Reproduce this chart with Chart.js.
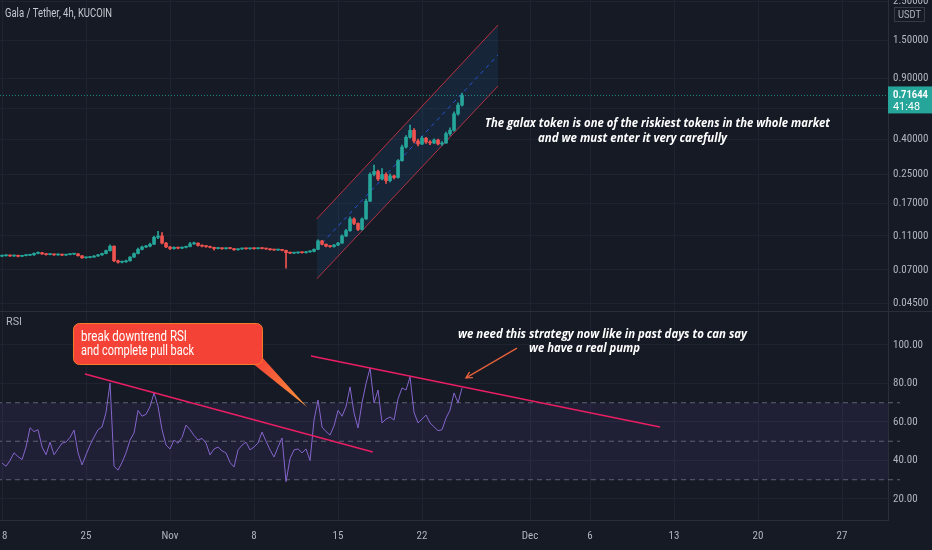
<!DOCTYPE html>
<html>
<head>
<meta charset="utf-8">
<script src="https://cdn.jsdelivr.net/npm/chart.js@4.4.0/dist/chart.umd.min.js"></script>
<style>
  html, body { margin: 0; padding: 0; background: #151a25; overflow: hidden; }
  #wrap { position: relative; width: 932px; height: 550px; }
  #priceChart { position: absolute; left: 0; top: 0; }
  #rsiChart { position: absolute; left: 0; top: 311px; }
</style>
</head>
<body>
<div id="wrap">
  <canvas id="priceChart" width="932" height="311"></canvas>
  <canvas id="rsiChart" width="932" height="239"></canvas>
</div>
<script>
// --- DATA (8h candles from Oct 18) ---
const closes = [
  0.0845, 0.0850, 0.0842, 0.0848, 0.0839, 0.0846, 0.0851, 0.0855, 0.0872, 0.0880,
  0.0866, 0.0858, 0.0862, 0.0855, 0.0860, 0.0852, 0.0858, 0.0863, 0.0867, 0.0845,
  0.0822, 0.0825, 0.0830, 0.0842, 0.0855, 0.0870, 0.0905, 0.0960, 0.0790, 0.0775,
  0.0780, 0.0790, 0.0830, 0.0870, 0.0920, 0.0950, 0.0960, 0.0985, 0.1080, 0.1100,
  0.1000, 0.0950, 0.0930, 0.0945, 0.0935, 0.0945, 0.0955, 0.0990, 0.1000, 0.0970,
  0.0960, 0.0955, 0.0945, 0.0930, 0.0935, 0.0928, 0.0935, 0.0930, 0.0915, 0.0925,
  0.0930, 0.0927, 0.0932, 0.0928, 0.0935, 0.0930, 0.0925, 0.0915, 0.0912, 0.0915,
  0.0908, 0.0880, 0.0875, 0.0878, 0.0882, 0.0880, 0.0890, 0.0895, 0.0920, 0.1030,
  0.0985, 0.0960, 0.0955, 0.0975, 0.1000, 0.1100, 0.1180, 0.1380, 0.1300, 0.1200,
  0.1380, 0.1750, 0.2500, 0.2600, 0.2350, 0.2500, 0.2300, 0.2450, 0.2400, 0.3000,
  0.3600, 0.4100, 0.4500, 0.3900, 0.3750, 0.4050, 0.3850, 0.3800, 0.3950, 0.3750,
  0.3800, 0.4300, 0.4500, 0.5600, 0.6300, 0.71644
];
const highs = [
  0.0852, 0.0856, 0.0855, 0.0853, 0.0852, 0.0850, 0.0857, 0.0862, 0.0878, 0.0890,
  0.0885, 0.0870, 0.0868, 0.0866, 0.0865, 0.0864, 0.0862, 0.0868, 0.0873, 0.0870,
  0.0848, 0.0830, 0.0836, 0.0847, 0.0860, 0.0876, 0.0912, 0.0978, 0.0965, 0.0798,
  0.0788, 0.0797, 0.0836, 0.0878, 0.0935, 0.0960, 0.0972, 0.1000, 0.1100, 0.1170,
  0.1150, 0.1010, 0.0958, 0.0952, 0.0950, 0.0952, 0.0962, 0.1010, 0.1015, 0.1005,
  0.0978, 0.0966, 0.0960, 0.0950, 0.0942, 0.0940, 0.0940, 0.0941, 0.0934, 0.0930,
  0.0936, 0.0935, 0.0937, 0.0938, 0.0940, 0.0940, 0.0934, 0.0930, 0.0920, 0.0920,
  0.0922, 0.0912, 0.0886, 0.0884, 0.0888, 0.0888, 0.0896, 0.0902, 0.0928, 0.1045,
  0.1038, 0.0992, 0.0968, 0.0982, 0.1010, 0.1115, 0.1200, 0.1420, 0.1400, 0.1310,
  0.1400, 0.1800, 0.2550, 0.2830, 0.2650, 0.2700, 0.2550, 0.2520, 0.2480, 0.3050,
  0.3700, 0.4200, 0.4830, 0.4600, 0.4000, 0.4150, 0.4100, 0.3920, 0.4020, 0.4000,
  0.3870, 0.4400, 0.4650, 0.5750, 0.6500, 0.7400
];
const lows = [
  0.0835, 0.0840, 0.0837, 0.0838, 0.0833, 0.0835, 0.0842, 0.0846, 0.0850, 0.0866,
  0.0860, 0.0852, 0.0853, 0.0850, 0.0850, 0.0846, 0.0848, 0.0853, 0.0858, 0.0840,
  0.0816, 0.0817, 0.0820, 0.0826, 0.0838, 0.0850, 0.0865, 0.0898, 0.0780, 0.0766,
  0.0768, 0.0772, 0.0786, 0.0825, 0.0865, 0.0912, 0.0940, 0.0952, 0.0980, 0.1060,
  0.0990, 0.0940, 0.0915, 0.0922, 0.0925, 0.0928, 0.0938, 0.0950, 0.0982, 0.0960,
  0.0950, 0.0945, 0.0938, 0.0910, 0.0925, 0.0920, 0.0922, 0.0924, 0.0908, 0.0910,
  0.0920, 0.0921, 0.0922, 0.0923, 0.0924, 0.0925, 0.0919, 0.0910, 0.0906, 0.0907,
  0.0902, 0.0717, 0.0868, 0.0870, 0.0872, 0.0874, 0.0875, 0.0884, 0.0890, 0.0915,
  0.0975, 0.0950, 0.0945, 0.0948, 0.0968, 0.0995, 0.1090, 0.1170, 0.1280, 0.1180,
  0.1190, 0.1370, 0.1740, 0.2450, 0.2300, 0.2320, 0.2220, 0.2260, 0.2350, 0.2380,
  0.2980, 0.3550, 0.4050, 0.3800, 0.3650, 0.3720, 0.3780, 0.3720, 0.3760, 0.3700,
  0.3680, 0.3780, 0.4200, 0.4450, 0.5500, 0.6200
];
const firstOpen = 0.0840;
const opens = [firstOpen, ...closes.slice(0, -1)];

const rsiValues = [
  38.7, 37.0, 40.0, 44.0, 42.0, 40.5, 47.0, 57.0, 55.0, 56.0,
  47.0, 43.0, 49.5, 43.0, 46.0, 49.0, 49.6, 52.0, 55.8, 44.0,
  37.7, 43.0, 48.0, 52.2, 56.0, 57.4, 65.0, 80.3, 37.0, 35.0,
  39.0, 44.0, 50.6, 54.3, 66.0, 63.0, 64.0, 68.0, 75.1, 68.0,
  56.0, 48.0, 46.0, 50.6, 49.0, 52.0, 58.4, 56.0, 53.0, 50.6,
  51.5, 49.0, 42.9, 46.0, 47.0, 45.0, 43.9, 39.0, 36.6, 45.5,
  48.0, 49.5, 45.5, 47.0, 49.1, 54.8, 50.0, 45.5, 41.8, 47.0,
  51.7, 29.0, 41.0, 45.5, 46.0, 44.0, 46.0, 40.0, 61.0, 71.4,
  57.4, 55.0, 53.2, 58.0, 66.0, 63.0, 68.0, 78.2, 64.7, 56.9,
  70.0, 80.0, 88.0, 69.9, 76.6, 59.5, 61.5, 62.6, 61.0, 72.0,
  77.7, 76.6, 83.4, 65.0, 59.5, 61.5, 63.6, 59.5, 57.5, 55.5,
  56.0, 62.0, 66.2, 75.1, 70.0, 77.7
];

// time axis: days since Oct 18
const candleHours = 8;
const candleDays = closes.map((_, i) => i * candleHours / 24);
const timeTickDays = [0, 7, 14, 21, 28, 35, 44, 49, 56, 63, 70];
const timeTickLabels = ['18', '25', 'Nov', '8', '15', '22', 'Dec', '6', '13', '20', '27'];
const xMin = -0.17, xMax = 73.83;

const priceTicks = [0.045, 0.07, 0.11, 0.17, 0.25, 0.4, 0.6, 0.9, 1.5, 2.5];
const rsiTicks = [20, 40, 60, 80, 100];
const rsiLevels = [70, 50, 30];

// drawings: [day, value]
const channelUpper = [[26.22, 0.1379], [41.33, 1.832]];
const channelLower = [[26.22, 0.0620], [41.33, 0.812]];
const channelMid = [[26.22, 0.0925], [41.33, 1.228]];
const rsiTrendA = [[6.91, 84.9], [30.9, 44.4]];
const rsiTrendB = [[25.75, 94.3], [54.83, 57.4]];
const arrowLine = [[42.91, 98.4], [38.66, 82.9]];

const noteMain = ['The galax token is one of the riskiest tokens in the whole market', 'and we must enter it very carefully'];
const noteRsi = ['we need this strategy now like in past days to can say', 'we have a real pump'];
const calloutLines = ['break downtrend RSI', 'and complete pull back'];

// --- STYLE ---
const UP = '#26a69a', DOWN = '#ef5350';
const GRID = '#1f2331', EDGE = '#2a2e39', TEXT = '#b2b5be';
const AXIS_FONT = { family: "'Liberation Sans Narrow', 'Roboto Condensed', Roboto, sans-serif", size: 11 };

const toPts = arr => arr.map(p => ({ x: p[0], y: p[1] }));
const candleColors = closes.map((c, i) => c >= opens[i] ? UP : DOWN);

function rightAxisFit(scale) {
  scale.width = 44;
  scale.paddingTop = 0;
  scale.paddingBottom = 0;
}

function timeTicks(scale) {
  scale.ticks = timeTickDays.map(v => ({ value: v }));
}
function timeLabel(value) {
  const k = timeTickDays.indexOf(value);
  return k >= 0 ? timeTickLabels[k] : '';
}

// --- PRICE PANE ---
const pricePlugin = {
  id: 'priceDecor',
  afterDraw(chart) {
    const { ctx, chartArea, scales } = chart;
    ctx.save();
    ctx.textBaseline = 'middle';
    ctx.textAlign = 'left';

    ctx.fillStyle = '#c5c8d0';
    ctx.font = '12px Roboto';
    ctx.fillText('Gala / Tether, 4h, KUCOIN', 5, 14, 107);

    // currency box
    ctx.fillStyle = '#151a25';
    ctx.fillRect(chartArea.right + 6, 7, 30, 14);
    ctx.strokeStyle = '#363a45';
    ctx.strokeRect(chartArea.right + 6.5, 7.5, 30, 14);
    ctx.fillStyle = TEXT;
    ctx.font = '10px Roboto';
    ctx.fillText('USDT', chartArea.right + 10, 15, 23);

    // last price tag
    const last = closes[closes.length - 1];
    const py = scales.y.getPixelForValue(last);
    ctx.fillStyle = UP;
    ctx.fillRect(chartArea.right, py - 9, 44, 27);
    ctx.fillStyle = '#ffffff';
    ctx.font = 'bold 11px Roboto';
    ctx.fillText(last.toFixed(5), chartArea.right + 5, py, 35);
    ctx.font = '11px Roboto';
    ctx.fillText('41:48', chartArea.right + 5, py + 12, 27);

    // note
    ctx.fillStyle = '#ffffff';
    ctx.font = 'italic bold 13px "Open Sans"';
    ctx.fillText(noteMain[0], 485, 123, 345);
    ctx.fillText(noteMain[1], 538, 138, 189);
    ctx.restore();
  }
};

new Chart(document.getElementById('priceChart'), {
  type: 'bar',
  data: {
    datasets: [
      {
        label: 'wicks',
        data: candleDays.map((d, i) => ({ x: d, y: [lows[i], highs[i]] })),
        backgroundColor: candleColors,
        barThickness: 1,
        grouped: false,
        order: 2
      },
      {
        label: 'bodies',
        data: candleDays.map((d, i) => ({ x: d, y: [opens[i], closes[i]] })),
        backgroundColor: candleColors,
        barThickness: 3,
        minBarLength: 1,
        grouped: false,
        order: 1
      },
      {
        type: 'line', label: 'upper',
        data: toPts(channelUpper),
        borderColor: 'rgba(242,54,69,0.75)', borderWidth: 1, pointRadius: 0,
        fill: { target: '+1' }, backgroundColor: 'rgba(33,150,243,0.09)',
        order: 5
      },
      {
        type: 'line', label: 'lower',
        data: toPts(channelLower),
        borderColor: 'rgba(242,54,69,0.75)', borderWidth: 1, pointRadius: 0,
        order: 5
      },
      {
        type: 'line', label: 'mid',
        data: toPts(channelMid),
        borderColor: 'rgba(41,98,255,0.8)', borderWidth: 1, borderDash: [4, 4], pointRadius: 0,
        order: 4
      },
      {
        type: 'line', label: 'last',
        data: [{ x: xMin - 1, y: closes[closes.length - 1] }, { x: xMax + 1, y: closes[closes.length - 1] }],
        borderColor: 'rgba(38,166,154,0.8)', borderWidth: 1, borderDash: [1, 2], pointRadius: 0,
        order: 6
      }
    ]
  },
  options: {
    responsive: false,
    animation: false,
    events: [],
    layout: { padding: 0 },
    plugins: { legend: { display: false }, tooltip: { enabled: false } },
    scales: {
      x: {
        type: 'linear', min: xMin, max: xMax, offset: false,
        afterBuildTicks: timeTicks,
        grid: { color: GRID, drawTicks: false, offset: false },
        border: { display: false },
        ticks: { display: false }
      },
      y: {
        type: 'logarithmic', position: 'right', min: 0.04045, max: 2.557, bounds: 'data',
        afterBuildTicks: scale => { scale.ticks = priceTicks.map(v => ({ value: v })); },
        afterFit: rightAxisFit,
        grid: { color: GRID, drawTicks: false },
        border: { color: EDGE },
        ticks: { color: TEXT, font: AXIS_FONT, padding: 5, autoSkip: false, callback: v => Number(v).toFixed(5) }
      }
    }
  },
  plugins: [pricePlugin]
});

// --- RSI PANE ---
const rsiPlugin = {
  id: 'rsiDecor',
  afterDraw(chart) {
    const { ctx, chartArea, width } = chart;
    ctx.save();
    // pane separator
    ctx.strokeStyle = EDGE;
    ctx.lineWidth = 1;
    ctx.beginPath();
    ctx.moveTo(0, 0.5);
    ctx.lineTo(width, 0.5);
    ctx.stroke();

    ctx.textBaseline = 'middle';
    ctx.textAlign = 'left';
    ctx.fillStyle = TEXT;
    ctx.font = '11px Roboto';
    ctx.fillText('RSI', 6, 11, 16);

    // arrow head
    const am = chart.getDatasetMeta(chart.data.datasets.findIndex(d => d.label === 'arrow'));
    const p0 = am.data[0], p1 = am.data[1];
    const ang = Math.atan2(p1.y - p0.y, p1.x - p0.x);
    ctx.strokeStyle = 'rgba(240,100,60,0.95)';
    ctx.lineWidth = 1.3;
    ctx.beginPath();
    ctx.moveTo(p1.x - 7 * Math.cos(ang - 0.5), p1.y - 7 * Math.sin(ang - 0.5));
    ctx.lineTo(p1.x, p1.y);
    ctx.lineTo(p1.x - 7 * Math.cos(ang + 0.5), p1.y - 7 * Math.sin(ang + 0.5));
    ctx.stroke();

    // callout
    const bx = 73, by = 12, bw = 189, bh = 41, r = 6;
    const tip = { x: 307, y: 96 };
    const g = ctx.createLinearGradient(255, by + bh, tip.x, tip.y);
    g.addColorStop(0, '#f44336');
    g.addColorStop(1, '#ff9a3c');
    ctx.fillStyle = g;
    ctx.beginPath();
    ctx.moveTo(252, by + bh - 1);
    ctx.lineTo(tip.x, tip.y);
    ctx.lineTo(bx + bw - 1, by + bh - 8);
    ctx.closePath();
    ctx.fill();
    ctx.fillStyle = '#f44336';
    ctx.strokeStyle = '#f57c2c';
    ctx.lineWidth = 1;
    ctx.beginPath();
    ctx.roundRect(bx + 0.5, by + 0.5, bw, bh, r);
    ctx.fill();
    ctx.stroke();
    ctx.fillStyle = '#ffffff';
    ctx.font = '15px Roboto';
    ctx.fillText(calloutLines[0], 81, by + 14, 106);
    ctx.fillText(calloutLines[1], 81, by + 28, 113);

    // note
    ctx.font = 'italic bold 13px "Open Sans"';
    ctx.fillText(noteRsi[0], 458, 23, 289);
    ctx.fillText(noteRsi[1], 529, 37, 111);
    ctx.restore();
  }
};

const levelSet = (lvl, extra) => Object.assign({
  type: 'line', label: 'level' + lvl,
  data: [{ x: xMin - 1, y: lvl }, { x: xMax + 1, y: lvl }],
  borderColor: 'rgba(120,123,134,0.75)', borderWidth: 1, borderDash: [5, 4], pointRadius: 0,
  order: 8
}, extra);

new Chart(document.getElementById('rsiChart'), {
  type: 'line',
  data: {
    datasets: [
      levelSet(rsiLevels[0], { fill: { target: '+1' }, backgroundColor: 'rgba(126,87,194,0.1)' }),
      levelSet(rsiLevels[2]),
      levelSet(rsiLevels[1]),
      {
        label: 'RSI',
        data: candleDays.map((d, i) => ({ x: d, y: rsiValues[i] })),
        borderColor: '#8565cc', borderWidth: 1, pointRadius: 0, tension: 0,
        order: 3
      },
      {
        label: 'trendA', data: toPts(rsiTrendA),
        borderColor: '#e91e63', borderWidth: 1.5, pointRadius: 0, order: 2
      },
      {
        label: 'trendB', data: toPts(rsiTrendB),
        borderColor: '#e91e63', borderWidth: 1.5, pointRadius: 0, order: 2
      },
      {
        label: 'arrow', data: toPts(arrowLine),
        borderColor: 'rgba(240,100,60,0.95)', borderWidth: 1.3, pointRadius: 0, order: 1
      }
    ]
  },
  options: {
    responsive: false,
    animation: false,
    events: [],
    layout: { padding: 0 },
    clip: false,
    plugins: { legend: { display: false }, tooltip: { enabled: false } },
    scales: {
      x: {
        type: 'linear', min: xMin, max: xMax,
        afterBuildTicks: timeTicks,
        afterFit: scale => { scale.height = 30; scale.paddingLeft = 0; scale.paddingRight = 0; },
        grid: { color: GRID, drawTicks: false },
        border: { color: EDGE },
        ticks: { color: TEXT, font: AXIS_FONT, padding: 10, autoSkip: false, maxRotation: 0, callback: timeLabel }
      },
      y: {
        type: 'linear', position: 'right', min: 9.09, max: 117.66,
        afterBuildTicks: scale => { scale.ticks = rsiTicks.map(v => ({ value: v })); },
        afterFit: rightAxisFit,
        grid: { color: GRID, drawTicks: false },
        border: { color: EDGE },
        ticks: { color: TEXT, font: AXIS_FONT, padding: 5, autoSkip: false, callback: v => Number(v).toFixed(2) }
      }
    }
  },
  plugins: [rsiPlugin]
});
</script>
</body>
</html>
